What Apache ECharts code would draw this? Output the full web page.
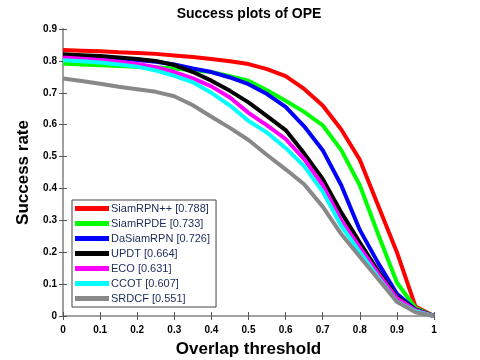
<!DOCTYPE html>
<html style="height: 100%">
<head>
<meta charset="UTF-8">
<title>Success plots of OPE</title>
<script src="https://cdn.jsdelivr.net/npm/echarts@6/dist/echarts.min.js"></script>
</head>
<body style="height: 100%; margin: 0; background: #fff">
<div id="container" style="width: 480px; height: 360px"></div>
<script type="text/javascript">
// overlap thresholds 0:0.05:1
var thresholds = [0, 0.05, 0.1, 0.15, 0.2, 0.25, 0.3, 0.35, 0.4, 0.45, 0.5,
                  0.55, 0.6, 0.65, 0.7, 0.75, 0.8, 0.85, 0.9, 0.95, 1];

var trackers = ['SiamRPN++ [0.788]', 'SiamRPDE [0.733]', 'DaSiamRPN [0.726]',
                'UPDT [0.664]', 'ECO [0.631]', 'CCOT [0.607]', 'SRDCF [0.551]'];

var siamrpnpp = [0.834, 0.832, 0.830, 0.827, 0.825, 0.822, 0.817, 0.812, 0.806, 0.799, 0.790,
                 0.774, 0.752, 0.712, 0.660, 0.585, 0.490, 0.345, 0.200, 0.030, 0.0];
var siamrpde  = [0.792, 0.789, 0.786, 0.784, 0.782, 0.780, 0.776, 0.771, 0.765, 0.752, 0.738,
                 0.708, 0.675, 0.640, 0.598, 0.520, 0.410, 0.255, 0.105, 0.025, 0.0];
var dasiamrpn = [0.818, 0.815, 0.812, 0.808, 0.803, 0.797, 0.789, 0.776, 0.765, 0.748, 0.727,
                 0.696, 0.656, 0.595, 0.520, 0.410, 0.270, 0.165, 0.070, 0.020, 0.0];
var updt      = [0.821, 0.818, 0.815, 0.811, 0.806, 0.800, 0.787, 0.765, 0.738, 0.706, 0.670,
                 0.627, 0.583, 0.510, 0.430, 0.325, 0.230, 0.140, 0.060, 0.020, 0.0];
var eco       = [0.811, 0.807, 0.803, 0.797, 0.790, 0.780, 0.765, 0.745, 0.720, 0.685, 0.637,
                 0.598, 0.555, 0.492, 0.410, 0.300, 0.215, 0.132, 0.056, 0.018, 0.0];
var ccot      = [0.802, 0.799, 0.795, 0.789, 0.782, 0.770, 0.753, 0.733, 0.700, 0.660, 0.612,
                 0.575, 0.527, 0.470, 0.390, 0.283, 0.200, 0.120, 0.045, 0.015, 0.0];
var srdcf     = [0.745, 0.737, 0.728, 0.719, 0.711, 0.703, 0.689, 0.661, 0.625, 0.590, 0.552,
                 0.505, 0.460, 0.413, 0.343, 0.257, 0.186, 0.115, 0.045, 0.012, 0.0];

var values = [siamrpnpp, siamrpde, dasiamrpn, updt, eco, ccot, srdcf];
var colors = ['#ff0000', '#00ff00', '#0000ff', '#000000', '#ff00ff', '#00ffff', '#888888'];

function pairs(ys) {
  var out = [];
  for (var i = 0; i < thresholds.length; i++) out.push([thresholds[i], ys[i]]);
  return out;
}

var series = [];
for (var k = 0; k < trackers.length; k++) {
  series.push({
    name: trackers[k],
    type: 'line',
    data: pairs(values[k]),
    showSymbol: false,
    symbol: 'none',
    lineStyle: { width: 4, color: colors[k] },
    itemStyle: { color: colors[k] },
    animation: false
  });
}

var frame = '#a0a0a0';
var tickFont = { fontFamily: 'Liberation Sans', fontWeight: 'bold', fontSize: 10, color: '#000' };

var myChart = echarts.init(document.getElementById('container'));
var option = {
  backgroundColor: '#fff',
  animation: false,
  title: {
    text: 'Success plots of OPE',
    left: 244, top: 2,
    textAlign: 'center',
    textStyle: { fontFamily: 'Liberation Sans', fontWeight: 'bold', fontSize: 14, color: '#000' }
  },
  legend: {
    orient: 'vertical',
    left: 72, top: 200,
    backgroundColor: '#fff',
    borderColor: '#444',
    borderWidth: 1,
    borderRadius: 0,
    padding: [3, 6, 3, 3],
    itemGap: 4,
    itemWidth: 34,
    itemHeight: 5,
    icon: 'rect',
    textStyle: { fontFamily: 'Liberation Sans', fontSize: 11, color: '#1c2a5a', lineHeight: 11, padding: [0, 0, 0, -3] },
    data: trackers
  },
  grid: { left: 63, right: 46, top: 29, bottom: 44, outerBoundsMode: 'none', containLabel: false },
  xAxis: [{
    type: 'value', min: 0, max: 1, interval: 0.1,
    name: 'Overlap threshold', nameLocation: 'middle', nameGap: 25,
    nameTextStyle: { fontFamily: 'Liberation Sans', fontWeight: 'bold', fontSize: 17, color: '#000' },
    axisLine: { show: true, lineStyle: { color: frame, width: 2 } },
    axisTick: { show: true, inside: true, length: 4, lineStyle: { color: '#555', width: 1 } },
    axisLabel: Object.assign({ margin: 9 }, tickFont),
    splitLine: { show: false }
  }, {
    type: 'value', min: 0, max: 1, interval: 0.1, position: 'top',
    axisLine: { show: true, lineStyle: { color: frame, width: 2 } },
    axisTick: { show: true, inside: true, length: 4, lineStyle: { color: '#555', width: 1 } },
    axisLabel: { show: false },
    splitLine: { show: false }
  }],
  yAxis: [{
    type: 'value', min: 0, max: 0.9, interval: 0.1,
    name: 'Success rate', nameLocation: 'middle', nameGap: 31,
    nameTextStyle: { fontFamily: 'Liberation Sans', fontWeight: 'bold', fontSize: 17, color: '#000' },
    axisLine: { show: true, lineStyle: { color: frame, width: 2 } },
    axisTick: { show: true, inside: true, length: 4, lineStyle: { color: '#555', width: 1 } },
    axisLabel: Object.assign({ margin: 6 }, tickFont),
    splitLine: { show: false }
  }, {
    type: 'value', min: 0, max: 0.9, interval: 0.1, position: 'right',
    axisLine: { show: true, lineStyle: { color: frame, width: 2 } },
    axisTick: { show: true, inside: true, length: 4, lineStyle: { color: '#555', width: 1 } },
    axisLabel: { show: false },
    splitLine: { show: false }
  }],
  series: series
};
myChart.setOption(option);
</script>
</body>
</html>
